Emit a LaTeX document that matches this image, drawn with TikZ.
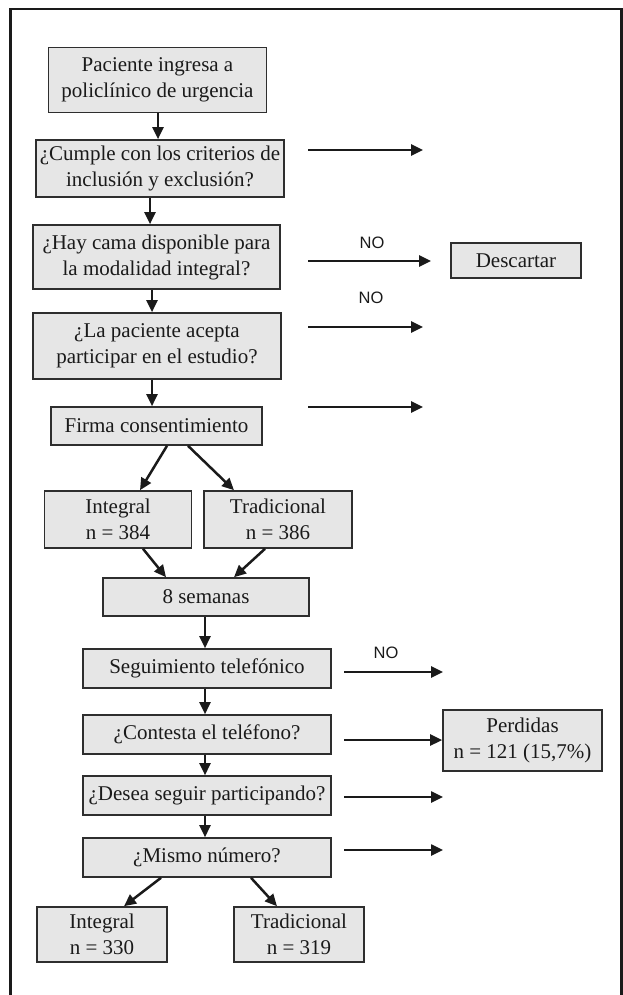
\documentclass[tikz,border=0pt]{standalone}
\usepackage{fontspec}
\setmainfont{Liberation Serif}
\newfontfamily\nofont{Liberation Sans}
\usetikzlibrary{arrows.meta}
\definecolor{boxfill}{HTML}{E6E6E6}
\definecolor{boxline}{HTML}{2E2E2E}
\definecolor{ink}{HTML}{1A1A1A}
\begin{document}
\begin{tikzpicture}[x=1pt,y=-1pt,
  box/.style={draw=boxline, line width=1.6pt, fill=boxfill, inner sep=0pt, align=center,
    font=\fontsize{21}{26}\selectfont, text=ink},
  arr/.style={draw=ink, line width=2.5pt, -{Triangle[length=12pt,width=11pt]}},
  nolabel/.style={font=\nofont\fontsize{16.5}{18}\selectfont, text=ink, inner sep=0pt}]
\useasboundingbox (0,0) rectangle (623,995);
\draw[ink, line width=2.4pt] (10.5,1005) -- (10.5,9) -- (621.5,9) -- (621.5,1005);

% boxes
\node[box, minimum width=218pt, minimum height=65pt] (b1) at (157.5,80) {Paciente ingresa a\\policlínico de urgencia};
\node[box, minimum width=248pt, minimum height=57pt] (b2) at (160,168.5) {¿Cumple con los criterios de\\inclusión y exclusión?};
\node[box, minimum width=247pt, minimum height=64pt] (b3) at (156.5,257) {¿Hay cama disponible para\\la modalidad integral?};
\node[box, minimum width=248pt, minimum height=66pt] (b4) at (157,346) {¿La paciente acepta\\participar en el estudio?};
\node[box, minimum width=211pt, minimum height=38pt] (b5) at (156.5,426) {Firma consentimiento};
\node[box, minimum width=147pt, minimum height=57pt] (b6) at (118,519.5) {Integral\\n = 384};
\node[box, minimum width=148pt, minimum height=57pt] (b7) at (278,519.5) {Tradicional\\n = 386};
\node[box, minimum width=206pt, minimum height=38pt] (b8) at (206,597) {8 semanas};
\node[box, minimum width=248pt, minimum height=39pt] (b9) at (207,668.5) {Seguimiento telefónico};
\node[box, minimum width=248pt, minimum height=39pt] (b10) at (207,734.5) {¿Contesta el teléfono?};
\node[box, minimum width=248pt, minimum height=39pt] (b11) at (207,795.5) {¿Desea seguir participando?};
\node[box, minimum width=248pt, minimum height=39pt] (b12) at (207,857.5) {¿Mismo número?};
\node[box, minimum width=130.5pt, minimum height=55pt] (b13) at (102,934.5) {Integral\\n = 330};
\node[box, minimum width=130.5pt, minimum height=55pt] (b14) at (299,934.5) {Tradicional\\n = 319};
\node[box, minimum width=130.5pt, minimum height=35pt] (desc) at (516,260.5) {Descartar};
\node[box, minimum width=159pt, minimum height=61pt] (perd) at (522.5,740.5) {Perdidas\\n = 121 (15,7\%)};

% NO labels
\node[nolabel] (no1) at (372,243) {NO};
\node[nolabel] (no2) at (371,298) {NO};
\node[nolabel] (no3) at (386,653) {NO};

% vertical / diagonal arrows
\draw[arr] ([xshift=0.5pt]b1.south) -- ([xshift=-2pt]b2.north);
\draw[arr] ([xshift=-10pt]b2.south) -- ([xshift=-6.5pt]b3.north);
\draw[arr] ([xshift=-4.5pt]b3.south) -- ([xshift=-5pt]b4.north);
\draw[arr] ([xshift=-5pt]b4.south) -- ([xshift=-4.5pt]b5.north);
\draw[arr] ([xshift=10.5pt]b5.south) -- ([xshift=22pt]b6.north);
\draw[arr] ([xshift=31.5pt]b5.south) -- ([xshift=-44pt]b7.north);
\draw[arr] ([xshift=25pt]b6.south) -- ([xshift=-40pt]b8.north);
\draw[arr] ([xshift=-13pt]b7.south) -- ([xshift=28pt]b8.north);
\draw[arr] ([xshift=-1pt]b8.south) -- ([xshift=-2pt]b9.north);
\draw[arr] ([xshift=-2pt]b9.south) -- ([xshift=-2pt]b10.north);
\draw[arr] ([xshift=-2pt]b10.south) -- ([xshift=-2pt]b11.north);
\draw[arr] ([xshift=-2pt]b11.south) -- ([xshift=-2pt]b12.north);
\draw[arr] ([xshift=-46pt]b12.south) -- ([xshift=22pt]b13.north);
\draw[arr] ([xshift=44pt]b12.south) -- ([xshift=-22pt]b14.north);

% side arrows
\coordinate (r1s) at (308,150); \coordinate (r1e) at (423,150);
\coordinate (r2s) at (308,261); \coordinate (r2e) at (431,261);
\coordinate (r3s) at (308,327); \coordinate (r3e) at (423,327);
\coordinate (r4s) at (308,407); \coordinate (r4e) at (423,407);
\coordinate (r5s) at (344,672); \coordinate (r5e) at (443,672);
\coordinate (r6s) at (344,740);
\coordinate (r7s) at (344,797); \coordinate (r7e) at (443,797);
\coordinate (r8s) at (344,850); \coordinate (r8e) at (443,850);
\draw[arr] (r1s) -- (r1e);
\draw[arr] (r2s) -- (r2e);
\draw[arr] (r3s) -- (r3e);
\draw[arr] (r4s) -- (r4e);
\draw[arr] (r5s) -- (r5e);
\draw[arr] (r6s) -- (r6s -| perd.west);
\draw[arr] (r7s) -- (r7e);
\draw[arr] (r8s) -- (r8e);
\end{tikzpicture}
\end{document}
